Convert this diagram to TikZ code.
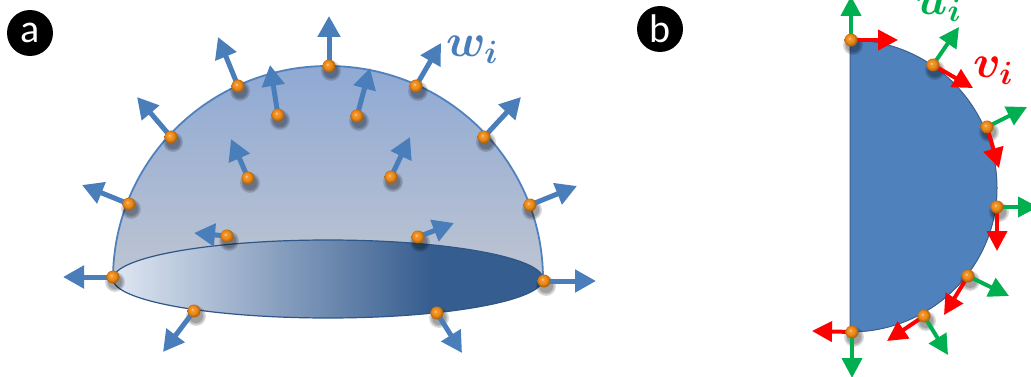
\RequirePackage{fix-cm}
\documentclass[tikz,border=0pt]{standalone}
\usepackage{fontspec}
\newfontfamily\labelfont{Carlito}
\usetikzlibrary{arrows.meta}

\definecolor{domeblue}{RGB}{79,129,189}
\definecolor{arrowblue}{RGB}{74,126,187}
\definecolor{domeTop}{RGB}{143,169,212}
\definecolor{domeBot}{RGB}{190,197,210}
\definecolor{baseLight}{RGB}{224,231,243}
\definecolor{baseDark}{RGB}{54,93,143}
\definecolor{baseEdge}{RGB}{46,86,135}
\definecolor{secFill}{RGB}{79,129,189}
\definecolor{secEdge}{RGB}{60,95,140}
\definecolor{ugreen}{RGB}{0,176,80}
\definecolor{vred}{RGB}{255,0,0}
\definecolor{ballOrange}{RGB}{240,138,22}

% light on the left, dark from about three quarters of the way across
\pgfdeclarehorizontalshading{basegrad}{100bp}{color(0bp)=(baseLight); color(25bp)=(baseLight); color(62bp)=(baseDark); color(100bp)=(baseDark)}
% glossy orange sphere, lit from the upper left
\pgfdeclareradialshading{orangeball}{\pgfqpoint{-7bp}{7bp}}{color(0bp)=(ballOrange!35!white); color(6bp)=(ballOrange!90!white); color(15bp)=(ballOrange); color(25bp)=(ballOrange!72!black); color(50bp)=(ballOrange!50!black)}

\begin{document}
\begin{tikzpicture}[x=1pt,y=-1pt,
  ball/.style={circle, minimum size=13pt, inner sep=0pt, shading=orangeball},
  warrow/.style={draw=arrowblue, line width=5pt, -{Triangle[length=21pt,width=22pt]}},
  uarrow/.style={draw=ugreen, line width=4pt, -{Triangle[length=20pt,width=20pt]}},
  varrow/.style={draw=vred, line width=4pt, -{Triangle[length=20pt,width=20pt]}},
  panellabel/.style={circle, fill=black, minimum size=46pt, inner sep=0pt, text=white,
    font=\labelfont\fontsize{40}{40}\selectfont},
  veclabel/.style={anchor=base west, inner sep=0pt, font=\fontsize{46}{46}\selectfont\boldmath},
  dropshadow/.style={fill=black, fill opacity=0.14, draw=none}
]
\useasboundingbox (0,0) rectangle (1031,377);

% ---------- panel a: hemisphere ----------
\shade[top color=domeTop, bottom color=domeBot]
  (113,279) arc[start angle=180, end angle=0, x radius=215pt, y radius=213pt] -- cycle;
\draw[domeblue, line width=1.8pt]
  (113,279) arc[start angle=180, end angle=0, x radius=215pt, y radius=213pt];
\shadedraw[shading=basegrad, draw=baseEdge, line width=1.2pt]
  (328,279) ellipse[x radius=215pt, y radius=39pt];

% ---------- panel b: cross-section ----------
\draw[fill=secFill, draw=secEdge, line width=1pt]
  (850,40) arc[start angle=90, end angle=0, x radius=147pt, y radius=148pt]
  arc[start angle=0, end angle=-90, x radius=147pt, y radius=144pt] -- cycle;

\node[panellabel] (la) at (30,33) {a};
\node[panellabel] (lb) at (660,29) {b};

% surface points of the hemisphere
\coordinate (a1)  at (238,86);   \coordinate (ta1)  at (218,37);
\coordinate (a2)  at (329,66);   \coordinate (ta2)  at (329,16);
\coordinate (a3)  at (171,137);  \coordinate (ta3)  at (137,97);
\coordinate (a4)  at (278,115);  \coordinate (ta4)  at (270,65);
\coordinate (a5)  at (248,178);  \coordinate (ta5)  at (231,139);
\coordinate (a6)  at (416,86);   \coordinate (ta6)  at (441,43);
\coordinate (a7)  at (357,116);  \coordinate (ta7)  at (370,68);
\coordinate (a8)  at (391,177);  \coordinate (ta8)  at (410,137);
\coordinate (a9)  at (484,137);  \coordinate (ta9)  at (521,97);
\coordinate (a10) at (530,205);  \coordinate (ta10) at (577,186);
\coordinate (a11) at (418,237);  \coordinate (ta11) at (454,223);
\coordinate (a12) at (544,281);  \coordinate (ta12) at (596,281);
\coordinate (a13) at (437,313);  \coordinate (ta13) at (462,353);
\coordinate (a14) at (194,311);  \coordinate (ta14) at (163,352);
\coordinate (a15) at (113,277);  \coordinate (ta15) at (63,277);
\coordinate (a16) at (129,204);  \coordinate (ta16) at (82,185);
\coordinate (a17) at (227,236);  \coordinate (ta17) at (194,233);

% boundary points of the cross-section
\coordinate (b1) at (851,40);    \coordinate (tu1) at (851,-4);   \coordinate (tv1) at (898,40);
\coordinate (b2) at (933,65);    \coordinate (tu2) at (959,27);   \coordinate (tv2) at (973,88);
\coordinate (b3) at (987,127);   \coordinate (tu3) at (1027,107); \coordinate (tv3) at (999,168);
\coordinate (b4) at (997,207);   \coordinate (tu4) at (1038,207); \coordinate (tv4) at (997,251);
\coordinate (b5) at (968,276);   \coordinate (tu5) at (1009,296); \coordinate (tv5) at (944,315);
\coordinate (b6) at (924,316);   \coordinate (tu6) at (948,355);  \coordinate (tv6) at (887,341);
\coordinate (b7) at (852,332);   \coordinate (tu7) at (852,378);  \coordinate (tv7) at (812,331);

% soft shadows under the points
\foreach \p in {a1,a2,a3,a4,a5,a6,a7,a8,a9,a10,a11,a12,a13,a14,a15,a16,a17,b1,b2,b3,b4,b5,b6,b7} {
  \foreach \r in {10,8.5,7} {
    \path[dropshadow] ([xshift=2pt,yshift=-5pt]\p) circle[radius=\r pt];
  }
}

% normal vectors
\foreach \i in {1,...,17} {\draw[warrow] (a\i) -- (ta\i);}
% tangent and normal vectors of the section
\foreach \i in {1,...,7} {
  \draw[uarrow] (b\i) -- (tu\i);
  \draw[varrow] (b\i) -- (tv\i);
}

% the points themselves
\foreach \i in {1,...,17} {\node[ball] (pa\i) at (a\i) {};}
\foreach \i in {1,...,7} {\node[ball] (pb\i) at (b\i) {};}

\node[veclabel, text=arrowblue] (wl) at (446,57) {$w_i$};
\node[veclabel, text=ugreen] (ul) at (916,15) {$u_i$};
\node[veclabel, text=vred]   (vl) at (973,78) {$v_i$};
\end{tikzpicture}
\end{document}
